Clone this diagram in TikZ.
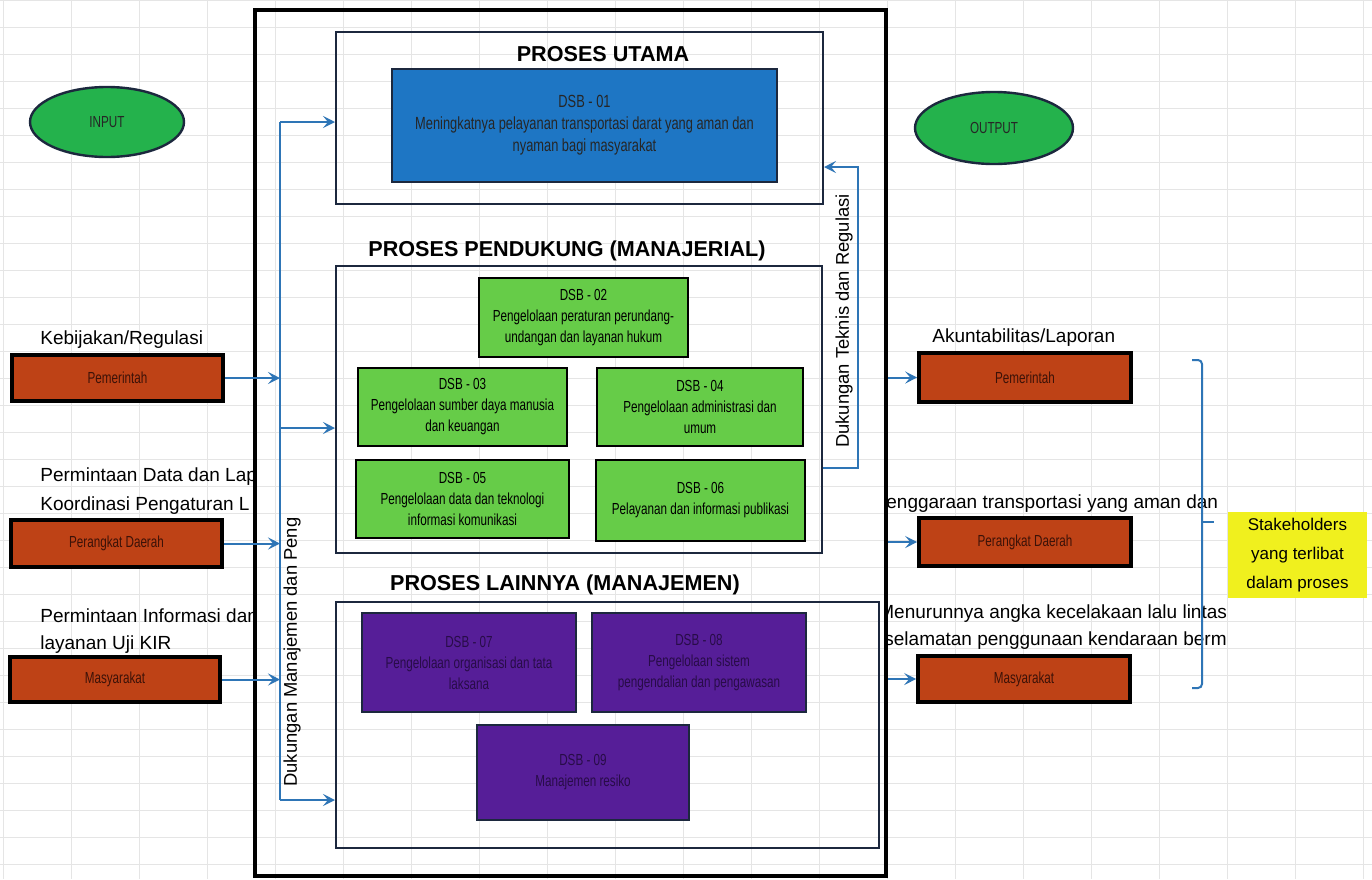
\documentclass[tikz,border=0pt]{standalone}
\usepackage{fontspec}
\setmainfont{Liberation Sans}
\newfontfamily\narrowfont[FakeStretch=0.73]{Liberation Sans}
\usetikzlibrary{shapes.geometric,arrows.meta,fit}
\definecolor{framec}{RGB}{28,40,62}
\definecolor{arrblue}{RGB}{46,117,182}
\definecolor{orangebox}{RGB}{190,66,22}
\definecolor{orangetxt}{RGB}{60,18,8}
\definecolor{greenbox}{RGB}{102,204,72}
\definecolor{bluebox}{RGB}{30,118,196}
\definecolor{purplebox}{RGB}{86,30,152}
\definecolor{purpletxt}{RGB}{40,12,72}
\definecolor{ellgreen}{RGB}{36,178,76}
\definecolor{yellowbox}{RGB}{240,240,30}
\begin{document}
\begin{tikzpicture}[x=0.5pt,y=-0.5pt,
  gridline/.style={draw=gray!20, line width=0.35pt},
  outerbox/.style={draw=black, line width=2pt, inner sep=0pt},
  frame/.style={draw=framec, line width=1pt, inner sep=0pt},
  title/.style={font=\fontsize{10.8}{13}\selectfont\bfseries, inner sep=0pt},
  boxfont/.style={font=\narrowfont\fontsize{8}{10.5}\selectfont, align=center, inner sep=0pt},
  dsbgreen/.style={boxfont, draw=black, line width=1.4pt, fill=greenbox, text=black},
  dsbblue/.style={boxfont, font=\narrowfont\fontsize{8.8}{11}\selectfont, draw=framec, line width=1.2pt, fill=bluebox, text=black!85},
  dsbpurple/.style={boxfont, draw=framec, line width=1pt, fill=purplebox, text=purpletxt},
  actor/.style={boxfont, draw=black, line width=1.8pt, fill=orangebox, text=orangetxt},
  ellip/.style={ellipse, draw=framec, line width=1.2pt, fill=ellgreen, inner sep=0pt,
    font=\narrowfont\fontsize{8}{9}\selectfont, text=black!85},
  lbl/.style={font=\fontsize{9.5}{11}\selectfont, inner sep=0pt, text=black},
  vlbl/.style={font=\fontsize{9.2}{11}\selectfont, inner sep=0pt, rotate=90, text=black},
  arr/.style={draw=arrblue, line width=1pt, -{Stealth[length=6pt,width=6pt,inset=2.5pt]}},
  conn/.style={draw=arrblue, line width=1pt},
  brk/.style={draw=arrblue, line width=1pt, rounded corners=2pt},
  stake/.style={fill=yellowbox, inner sep=0pt, align=center, font=\fontsize{8.5}{14.5}\selectfont}
]
\useasboundingbox (0,0) rectangle (1372,879);
\fill[white] (0,0) rectangle (1372,879);
% background grid
\foreach \gx in {3,71,...,1372} \draw[gridline] (\gx,0) -- (\gx,879);
\foreach \gy in {0,27,...,879} \draw[gridline] (0,\gy) -- (1372,\gy);

% outer box
\node[outerbox, fit={(255,10) (886,876)}] (outer) {};

% frames
\node[frame, fit={(336,32) (823,204)}] (fUtama) {};
\node[frame, fit={(336,266) (822,553)}] (fPend) {};
\node[frame, fit={(336,602) (879,848)}] (fLain) {};

% titles
\node[title] (tUtama) at (603,54) {PROSES UTAMA};
\node[title] (tPend) at (567,251) {PROSES PENDUKUNG (MANAJERIAL)};
\node[title] (tLain) at (565,585) {PROSES LAINNYA (MANAJEMEN)};

% process boxes
\node[dsbblue, minimum width=192.5pt, minimum height=56.5pt] (d1) at (584.5,125.5) {DSB - 01\\Meningkatnya pelayanan transportasi darat yang aman dan\\nyaman bagi masyarakat};
\node[dsbgreen, minimum width=104.5pt, minimum height=39.5pt] (d2) at (583.5,317.5) {DSB - 02\\Pengelolaan peraturan perundang-\\undangan dan layanan hukum};
\node[dsbgreen, minimum width=104.5pt, minimum height=39pt] (d3) at (462.5,407) {DSB - 03\\Pengelolaan sumber daya manusia\\dan keuangan};
\node[dsbgreen, minimum width=103pt, minimum height=39pt] (d4) at (700,407) {DSB - 04\\Pengelolaan administrasi dan\\umum};
\node[dsbgreen, minimum width=106.5pt, minimum height=39pt] (d5) at (462.5,499) {DSB - 05\\Pengelolaan data dan teknologi\\informasi komunikasi};
\node[dsbgreen, minimum width=104.5pt, minimum height=40.5pt] (d6) at (700.5,500.5) {DSB - 06\\Pelayanan dan informasi publikasi};
\node[dsbpurple, minimum width=107pt, minimum height=49.5pt] (d7) at (469,662.5) {DSB - 07\\Pengelolaan organisasi dan tata\\laksana};
\node[dsbpurple, minimum width=107pt, minimum height=49.5pt] (d8) at (699,662.5) {DSB - 08\\Pengelolaan sistem\\pengendalian dan pengawasan};
\node[dsbpurple, minimum width=106pt, minimum height=47.5pt] (d9) at (583,772.5) {DSB - 09\\Manajemen resiko};

% ellipses
\node[ellip, minimum width=77pt, minimum height=35pt] (inp) at (107,122) {INPUT};
\node[ellip, minimum width=79pt, minimum height=36pt] (outp) at (994,128) {OUTPUT};

% input actors
\node[actor, minimum width=105.5pt, minimum height=23pt] (iPem) at (117.5,378) {Pemerintah};
\node[actor, minimum width=105.5pt, minimum height=23.5pt] (iPD) at (116.5,543.5) {Perangkat Daerah};
\node[actor, minimum width=105pt, minimum height=22.5pt] (iMas) at (115,679.5) {Masyarakat};

% output actors
\node[actor, minimum width=106pt, minimum height=24.5pt] (oPem) at (1025,377.5) {Pemerintah};
\node[actor, minimum width=106pt, minimum height=24pt] (oPD) at (1025,542) {Perangkat Daerah};
\node[actor, minimum width=106pt, minimum height=23pt] (oMas) at (1024,679) {Masyarakat};

% left labels (clipped by the outer box)
\begin{scope}
\clip (0,0) rectangle (254,879);
\node[lbl, anchor=base west] (l1) at (40,344) {Kebijakan/Regulasi};
\node[lbl, anchor=base west] (l2) at (40,481) {Permintaan Data dan Lap};
\node[lbl, anchor=base west] (l3) at (40,510) {Koordinasi Pengaturan L};
\node[lbl, anchor=base west] (l4) at (40,622) {Permintaan Informasi dan};
\node[lbl, anchor=base west] (l5) at (40,649) {layanan Uji KIR};
\end{scope}

% right labels (clipped)
\begin{scope}
\clip (888,0) rectangle (1228,879);
\node[lbl, anchor=base west] (r1) at (932,342) {Akuntabilitas/Laporan};
\node[lbl, anchor=base west] (r2) at (886,508) {enggaraan transportasi yang aman dan};
\node[lbl, anchor=base west] (r3) at (878,618) {Menurunnya angka kecelakaan lalu lintas};
\node[lbl, anchor=base west] (r4) at (884,645) {selamatan penggunaan kendaraan berm};
\end{scope}

% left support connector
\coordinate (lt) at (280,122);
\coordinate (lm) at (280,428);
\coordinate (lb) at (280,800);
\draw[conn] (lt) -- (lb);
\draw[arr] (lt) -- (fUtama.west |- lt);
\draw[arr] (lm) -- (fPend.west |- lm);
\draw[arr] (lb) -- (fLain.west |- lb);
\node[vlbl] (vlm) at (292,652) {Dukungan Manajemen dan Peng};

% input arrows
\draw[arr] (iPem.east) -- (iPem.east -| lt);
\draw[arr] (iPD.east) -- (iPD.east -| lt);
\draw[arr] (iMas.east) -- (iMas.east -| lt);

% right support connector
\coordinate (rb) at (858,468);
\coordinate (rt) at (858,167);
\draw[arr] (fPend.east |- rb) -- (rb) -- (rt) -- (fUtama.east |- rt);
\node[vlbl] (vrt) at (844,321) {Dukungan Teknis dan Regulasi};

% output arrows
\draw[arr] (outer.east |- oPem.west) -- (oPem.west);
\draw[arr] (outer.east |- oPD.west) -- (oPD.west);
\draw[arr] (outer.east |- oMas.west) -- (oMas.west);

% bracket
\coordinate (bt) at (1202,360);
\coordinate (bb) at (1202,688);
\coordinate (bm) at (1202,522);
\draw[brk] ([xshift=-5pt]bt) -- (bt) -- (bb) -- ([xshift=-5pt]bb);
\draw[brk] (bm) -- ([xshift=6pt]bm);

% stakeholders
\node[stake, minimum width=69.5pt, minimum height=43pt] (stk) at (1297.5,555) {Stakeholders\\yang terlibat\\dalam proses};
\end{tikzpicture}
\end{document}
